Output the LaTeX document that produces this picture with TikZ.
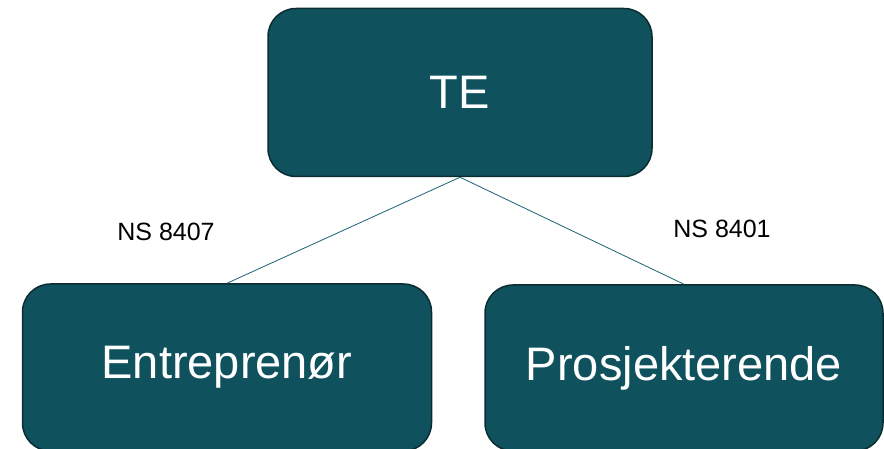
\documentclass[tikz,border=0pt]{standalone}
\usepackage{fontspec}
\setmainfont{Liberation Sans}
\definecolor{boxfill}{HTML}{0F525E}
\definecolor{boxdraw}{HTML}{0B2C31}
\definecolor{linkcol}{HTML}{1A6373}
\begin{document}
\begin{tikzpicture}[x=1pt,y=1pt,
  orgbox/.style={draw=boxdraw, line width=1.5pt, fill=boxfill, rounded corners=28pt,
    text=white, font=\fontsize{47}{52}\selectfont, inner sep=0pt},
  link/.style={draw=linkcol, line width=0.8pt},
  lbl/.style={font=\fontsize{25}{28}\selectfont, text=black}]
\useasboundingbox (0,0) rectangle (884,449);
\node[orgbox, minimum width=384pt, minimum height=168pt] (te) at (460,356.5) {TE};
\node[orgbox, minimum width=409pt, minimum height=167pt] (ent) at (227,81.5) {Entreprenør};
\node[orgbox, minimum width=398pt, minimum height=166pt] (pro) at (684,81) {Prosjekterende};
\draw[link] (te.south) -- (ent.north);
\draw[link] (te.south) -- (pro.north);
\node[lbl] (l1) at (166,217) {NS 8407};
\node[lbl] (l2) at (722,220) {NS 8401};
\end{tikzpicture}
\end{document}
